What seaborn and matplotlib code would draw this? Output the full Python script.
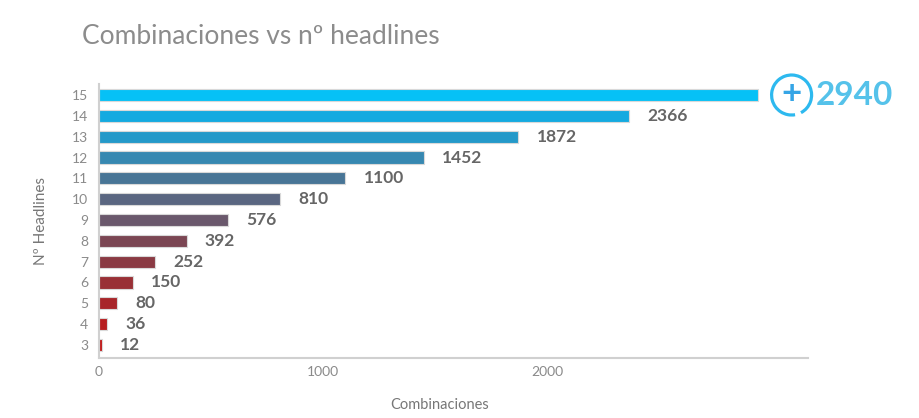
import matplotlib
matplotlib.use("Agg")
import matplotlib.pyplot as plt
import seaborn as sns
import pandas as pd
import numpy as np
from matplotlib.patches import Arc

headlines = ["15", "14", "13", "12", "11", "10", "9", "8", "7", "6", "5", "4", "3"]
combinaciones = [2940, 2366, 1872, 1452, 1100, 810, 576, 392, 252, 150, 80, 36, 12]
x_ticks = [0, 1000, 2000]
x_ticklabels = ["0", "1000", "2000"]
title = "Combinaciones vs nº headlines"
x_label = "Combinaciones"
y_label = "Nº Headlines"

df = pd.DataFrame({"headlines": headlines, "combinaciones": combinaciones})

sns.set_theme(style="white")
plt.rcParams["font.family"] = ["Lato", "DejaVu Sans"]

colors = ["#06c1f6", "#14aae0", "#2499c9", "#3788b1", "#487596", "#5a6681",
          "#6a586c", "#7b4653", "#8a3a43", "#993036", "#a8262a", "#b71d1f", "#c01818"]

fig = plt.figure(figsize=(9.19, 4.18), dpi=100)
ax = fig.add_axes([99 / 919, 1 - 358 / 418, (808 - 99) / 919, (358 - 84) / 418])

sns.barplot(data=df, x="combinaciones", y="headlines", order=headlines,
            hue="headlines", hue_order=headlines, palette=colors, legend=False,
            saturation=1, width=0.58, orient="h", ax=ax,
            edgecolor="#d9d9d9", linewidth=0.8)

ax.set_xlim(0, 3165)
ax.set_ylim(12 + 13 / 20.8, -11 / 20.8)
ax.set_xticks(x_ticks)
ax.set_xticklabels(x_ticklabels)
ax.tick_params(axis="both", length=0, labelsize=10, labelcolor="#8a8a8a")
ax.tick_params(axis="y", pad=8)
ax.tick_params(axis="x", pad=6)

for s in ["top", "right"]:
    ax.spines[s].set_visible(False)
for s in ["left", "bottom"]:
    ax.spines[s].set_color("#d0d0d0")
    ax.spines[s].set_linewidth(1.5)

ax.set_xlabel(x_label, fontsize=10.5, color="#777777", labelpad=0)
ax.xaxis.set_label_coords((440 - 99) / (808 - 99), -(398 - 358) / (358 - 84))
ax.set_ylabel(y_label, fontsize=11, color="#777777")
ax.yaxis.set_label_coords(-(99 - 48) / (808 - 99), 0.5)

fig.text(82 / 919, 1 - 37 / 418, title, fontsize=19, fontweight="normal",
         family=["Lato Light", "Lato", "DejaVu Sans"],
         color="#8c8c8c", ha="left", va="center")

# value labels
for i, (lab, v) in enumerate(zip(headlines, combinaciones)):
    if i == 0:
        continue
    ax.annotate(str(v), xy=(v, i), xytext=(13, 0), textcoords="offset points",
                ha="left", va="center", fontsize=12.5, fontweight="bold",
                color="#666666")

# highlighted top value with plus-in-circle icon
top_v = combinaciones[0]
cx, cy = ax.transData.transform((top_v, 0))
arc = Arc((cx + 34, cy), width=40, height=40, theta1=-62, theta2=280,
          transform=None, lw=2.3, color="#2db9ef", clip_on=False)
fig.add_artist(arc)
ax.annotate("+", xy=(top_v, 0), xytext=(34, 1), textcoords="offset pixels",
            ha="center", va="center", fontsize=25, fontweight="bold",
            color="#35a5e6", annotation_clip=False)
ax.annotate(str(top_v), xy=(top_v, 0), xytext=(58, 0), textcoords="offset pixels",
            ha="left", va="center", fontsize=24, fontweight="bold",
            color="#55c2ea", annotation_clip=False)

fig.savefig("out.png", dpi=100)
